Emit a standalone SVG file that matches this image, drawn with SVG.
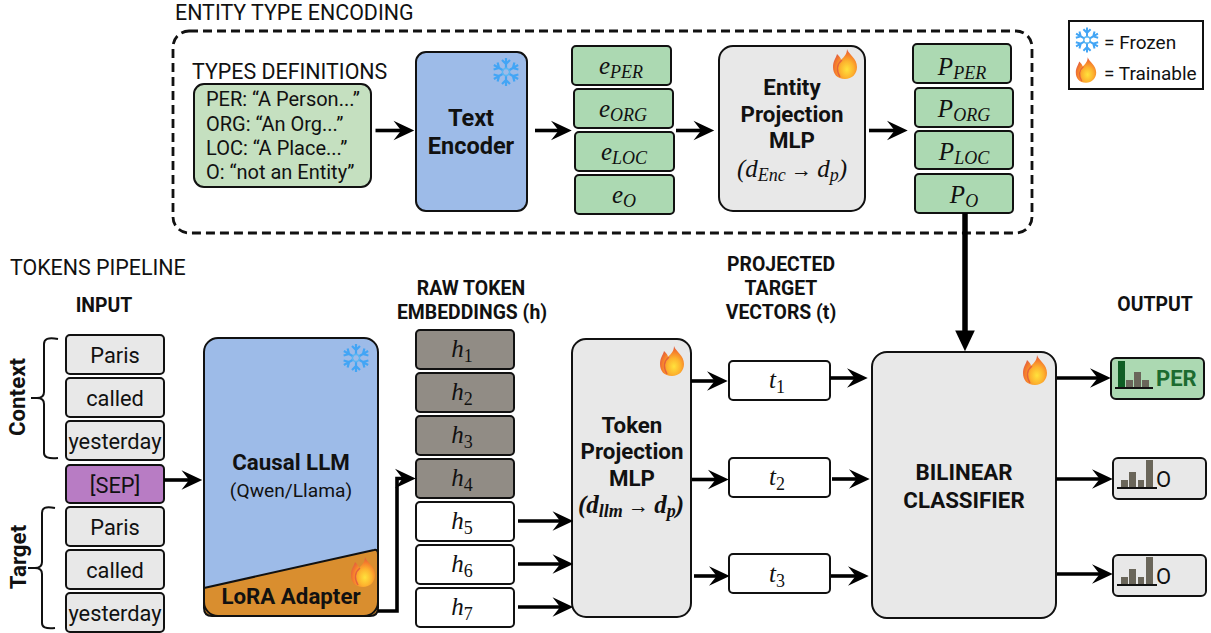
<svg xmlns="http://www.w3.org/2000/svg" xmlns:xlink="http://www.w3.org/1999/xlink" width="1211" height="633" viewBox="0 0 1211 633">
<style>
text{font-family:"Roboto","Liberation Sans",sans-serif;fill:#111}
.b{font-weight:700}
.c{text-anchor:middle}
.h{font-size:19.400px;font-weight:700;text-anchor:middle;transform:translateY(1px)}
.t{font-size:22.300px;font-weight:700;text-anchor:middle;transform:translateY(1px)}
.w{font-size:21.800px;text-anchor:middle;transform:translateY(1px)}
.m{font-family:"Liberation Serif",serif;font-style:italic;font-size:25px;text-anchor:middle}
.m tspan{font-size:18px}
.m .d{font-style:normal}
.m .n{font-size:25px}
.m .r{font-size:21px;font-style:normal;font-weight:400}
.box{stroke:#111;stroke-width:2}
.gray{fill:#e8e8e8}.green{fill:#acd9b2}.blue{fill:#9dbbe8}.white{fill:#fff}.hg{fill:#918c85}
.a{stroke:#000;stroke-width:3.600;fill:none;marker-end:url(#ah)}
.bar{fill:#6a665a}
</style>
<defs>
<marker id="ah" markerUnits="userSpaceOnUse" markerWidth="24" markerHeight="24" viewBox="-1 -11 22 22" refX="11" refY="0" orient="auto"><path d="M0,-9L19,0L0,9L7,0z" fill="#000"/></marker>
<marker id="ahb" markerUnits="userSpaceOnUse" markerWidth="24" markerHeight="24" viewBox="-1 -11 22 22" refX="5" refY="0" orient="auto"><path d="M0,-9L19,0L0,9z" fill="#000"/></marker>
<radialGradient id="fg" cx="0.58" cy="0.68" r="0.62"><stop offset="0" stop-color="#ffe23c"/><stop offset="0.45" stop-color="#fdb32e"/><stop offset="0.8" stop-color="#f57c2c"/><stop offset="1" stop-color="#e4623d"/></radialGradient>
<g id="arm"><path d="M0,-3V-14M-4,-12L0,-8L4,-12" fill="none" stroke="#42a5f5" stroke-width="2.200"/></g>
<g id="snow">
<use xlink:href="#arm" href="#arm"/><use xlink:href="#arm" href="#arm" transform="rotate(60)"/><use xlink:href="#arm" href="#arm" transform="rotate(120)"/><use xlink:href="#arm" href="#arm" transform="rotate(180)"/><use xlink:href="#arm" href="#arm" transform="rotate(240)"/><use xlink:href="#arm" href="#arm" transform="rotate(300)"/>
<circle r="3.600" fill="none" stroke="#5ab6f2" stroke-width="1.600"/>
</g>
<g id="flame">
<path d="M2,-15C4,-9 12,-6 12,3C12,10 7,15 0,15C-8,15 -12,10 -12,3C-12,-3 -9,-6 -8,-10C-6,-8 -4,-6 -4,-4C-1,-7 2,-10 2,-15z" fill="url(#fg)"/>
<path d="M-3,-4C-8,0 -9,6 -5,13" fill="none" stroke="#e4623d" stroke-width="1.400"/>
</g>
</defs>

<rect width="1211" height="633" fill="#fff"/>

<g id="titles">
<text x="175" y="20" font-size="21.400">ENTITY TYPE ENCODING</text>
<text x="10" y="275" font-size="21.400">TOKENS PIPELINE</text>
<text x="104" y="311" class="h">INPUT</text>
<text x="471" y="294" class="h">RAW TOKEN</text>
<text x="472" y="318" class="h">EMBEDDINGS (h)</text>
<text x="781" y="270" class="h">PROJECTED</text>
<text x="781" y="294" class="h">TARGET</text>
<text x="781" y="318" class="h">VECTORS (t)</text>
<text x="1155" y="310" class="h">OUTPUT</text>
</g>

<g id="entity-frame"><rect x="173" y="31" width="859" height="202" rx="16" fill="none" stroke="#111" stroke-width="2.800" stroke-dasharray="9 5"/></g>

<g id="types">
<text x="192" y="79" font-size="21.400">TYPES DEFINITIONS</text>
<rect class="box" x="194" y="84" width="177" height="103" rx="10" fill="#c5e0c0"/>
<text x="206" y="106" font-size="20">PER: “A Person...”</text>
<text x="206" y="131" font-size="20">ORG: “An Org...”</text>
<text x="206" y="155" font-size="20">LOC: “A Place...”</text>
<text x="206" y="179" font-size="20">O: “not an Entity”</text>
</g>

<g id="text-encoder">
<rect class="box blue" x="416" y="52" width="111" height="159" rx="10"/>
<text x="471" y="125" class="t" style="font-size:23.500px">Text</text>
<text x="471" y="153" class="t" style="font-size:23.500px">Encoder</text>
<use xlink:href="#snow" href="#snow" x="506" y="72"/>
</g>

<g id="e-per"><rect class="box green" x="572" y="46" width="99" height="39" rx="4"/><text class="m" x="621" y="74">e<tspan dy="4">PER</tspan></text></g>
<g id="e-org"><rect class="box green" x="574" y="89" width="99" height="39" rx="4"/><text class="m" x="623" y="117">e<tspan dy="4">ORG</tspan></text></g>
<g id="e-loc"><rect class="box green" x="575" y="132" width="99" height="39" rx="4"/><text class="m" x="624" y="160">e<tspan dy="4">LOC</tspan></text></g>
<g id="e-o"><rect class="box green" x="575" y="175" width="99" height="39" rx="4"/><text class="m" x="624" y="203">e<tspan dy="4">O</tspan></text></g>

<g id="entity-mlp">
<rect class="box gray" x="719" y="46" width="146" height="165" rx="14"/>
<text x="792" y="94" class="t">Entity</text>
<text x="792" y="121" class="t">Projection</text>
<text x="792" y="147" class="t">MLP</text>
<text class="m" x="792" y="177">(d<tspan dy="4">Enc</tspan><tspan dy="-4" class="r"> → </tspan>d<tspan dy="4">p</tspan><tspan dy="-4" class="n">)</tspan></text>
<use xlink:href="#flame" href="#flame" x="845" y="64"/>
</g>

<g id="p-per"><rect class="box green" x="913" y="44" width="98" height="39" rx="4"/><text class="m" x="962" y="75">P<tspan dy="4">PER</tspan></text></g>
<g id="p-org"><rect class="box green" x="915" y="88" width="98" height="39" rx="4"/><text class="m" x="964" y="117">P<tspan dy="4">ORG</tspan></text></g>
<g id="p-loc"><rect class="box green" x="915" y="131" width="98" height="38" rx="4"/><text class="m" x="964" y="160">P<tspan dy="4">LOC</tspan></text></g>
<g id="p-o"><rect class="box green" x="915" y="174" width="98" height="39" rx="4"/><text class="m" x="964" y="203">P<tspan dy="4">O</tspan></text></g>

<g id="legend">
<rect x="1069" y="21" width="134" height="68" fill="#fff" stroke="#111" stroke-width="2"/>
<use xlink:href="#snow" href="#snow" transform="translate(1087 40) scale(.9)"/>
<text x="1104" y="49" font-size="19">= Frozen</text>
<use xlink:href="#flame" href="#flame" transform="translate(1086 70) scale(.85)"/>
<text x="1104" y="80" font-size="19">= Trainable</text>
</g>

<g id="context-bracket">
<path d="M58,339C48,337 44,339 44,344V392C44,396 42,398 37,398H31M37,398C42,398 44,400 44,404V453C44,457 48,459 58,458" fill="none" stroke="#111" stroke-width="2"/>
<text transform="translate(25 397) rotate(-90)" font-size="22.300" class="b c">Context</text>
</g>
<g id="target-bracket">
<path d="M55,508C45,506 42,508 42,513V562C42,566 40,568 35,568H28M35,568C40,568 42,570 42,574V623C42,627 45,629 55,628" fill="none" stroke="#111" stroke-width="2"/>
<text transform="translate(26 557) rotate(-90)" font-size="22.300" class="b c">Target</text>
</g>

<g id="in-paris-1"><rect class="box gray" x="66" y="335" width="98" height="39" rx="4"/><text x="115" y="362" class="w">Paris</text></g>
<g id="in-called-1"><rect class="box gray" x="66" y="378" width="98" height="39" rx="4"/><text x="115" y="405" class="w">called</text></g>
<g id="in-yesterday-1"><rect class="box gray" x="66" y="421" width="98" height="39" rx="4"/><text x="115" y="448" class="w">yesterday</text></g>
<g id="in-sep"><rect class="box" fill="#b87cc4" x="66" y="465" width="98" height="38" rx="4"/><text x="115" y="492" class="w">[SEP]</text></g>
<g id="in-paris-2"><rect class="box gray" x="66" y="507" width="98" height="39" rx="4"/><text x="115" y="534" class="w">Paris</text></g>
<g id="in-called-2"><rect class="box gray" x="66" y="550" width="98" height="39" rx="4"/><text x="115" y="577" class="w">called</text></g>
<g id="in-yesterday-2"><rect class="box gray" x="66" y="593" width="98" height="39" rx="4"/><text x="115" y="620" class="w">yesterday</text></g>

<g id="causal-llm">
<rect class="blue" x="204" y="338" width="174" height="278" rx="14"/>
<path d="M204,588L374,550Q378,549 378,554V608Q378,616 370,616H212Q204,616 204,608z" fill="#d98e2f" stroke="#111" stroke-width="2"/>
<rect class="box" fill="none" x="204" y="338" width="174" height="278" rx="14"/>
<text x="291" y="469" class="t">Causal LLM</text>
<text x="291" y="497" font-size="19.200" class="c">(Qwen/Llama)</text>
<text x="291" y="603" class="t">LoRA Adapter</text>
<use xlink:href="#snow" href="#snow" x="356" y="358"/>
<use xlink:href="#flame" href="#flame" x="363" y="572"/>
</g>

<g id="h1"><rect class="box hg" x="416" y="330" width="98" height="39" rx="4"/><text class="m" x="462" y="357">h<tspan class="d" dy="5">1</tspan></text></g>
<g id="h2"><rect class="box hg" x="416" y="373" width="98" height="39" rx="4"/><text class="m" x="462" y="400">h<tspan class="d" dy="5">2</tspan></text></g>
<g id="h3"><rect class="box hg" x="416" y="416" width="98" height="39" rx="4"/><text class="m" x="462" y="443">h<tspan class="d" dy="5">3</tspan></text></g>
<g id="h4"><rect class="box hg" x="416" y="459" width="98" height="39" rx="4"/><text class="m" x="462" y="486">h<tspan class="d" dy="5">4</tspan></text></g>
<g id="h5"><rect class="box white" x="416" y="502" width="98" height="39" rx="4"/><text class="m" x="462" y="529">h<tspan class="d" dy="5">5</tspan></text></g>
<g id="h6"><rect class="box white" x="416" y="545" width="98" height="39" rx="4"/><text class="m" x="462" y="572">h<tspan class="d" dy="5">6</tspan></text></g>
<g id="h7"><rect class="box white" x="416" y="588" width="98" height="39" rx="4"/><text class="m" x="462" y="615">h<tspan class="d" dy="5">7</tspan></text></g>

<g id="token-mlp">
<rect class="box gray" x="572" y="339" width="119" height="278" rx="14"/>
<text x="632" y="432" class="t">Token</text>
<text x="632" y="458" class="t">Projection</text>
<text x="632" y="485" class="t">MLP</text>
<text class="m" x="631" y="513" font-weight="700">(d<tspan dy="4">llm</tspan><tspan dy="-4" class="r"> → </tspan>d<tspan dy="4">p</tspan><tspan dy="-4" class="n">)</tspan></text>
<use xlink:href="#flame" href="#flame" x="672" y="361"/>
</g>

<g id="t1"><rect class="box white" x="729" y="361" width="101" height="39" rx="4"/><text class="m" x="777" y="388">t<tspan class="d" dy="5">1</tspan></text></g>
<g id="t2"><rect class="box white" x="729" y="458" width="101" height="39" rx="4"/><text class="m" x="777" y="485">t<tspan class="d" dy="5">2</tspan></text></g>
<g id="t3"><rect class="box white" x="729" y="554" width="101" height="39" rx="4"/><text class="m" x="777" y="582">t<tspan class="d" dy="5">3</tspan></text></g>

<g id="bilinear">
<rect class="box gray" x="872" y="352" width="184" height="266" rx="15"/>
<text x="964" y="479" class="t">BILINEAR</text>
<text x="964" y="507" class="t">CLASSIFIER</text>
<use xlink:href="#flame" href="#flame" x="1035" y="370"/>
</g>

<g id="out-per">
<rect class="box green" x="1111" y="358" width="93" height="41" rx="5"/>
<rect x="1118" y="361" width="7" height="26" fill="#0f5e24"/>
<rect class="bar" x="1126" y="380" width="7" height="7"/><rect class="bar" x="1134" y="372" width="7" height="15"/><rect class="bar" x="1142" y="380" width="7" height="7"/>
<path d="M1115,388H1153" stroke="#111" stroke-width="2"/>
<text x="1156" y="386" font-size="22" class="b" style="fill:#1c6b30">PER</text>
</g>
<g id="out-o-1">
<rect class="box gray" x="1113" y="458" width="93" height="41" rx="5"/>
<rect class="bar" x="1121" y="480" width="7" height="7"/><rect class="bar" x="1129" y="472" width="7" height="15"/><rect class="bar" x="1138" y="480" width="6" height="7"/><rect class="bar" x="1146" y="460" width="7" height="27"/>
<path d="M1117,488H1157" stroke="#111" stroke-width="2"/>
<text x="1156" y="487" font-size="22">O</text>
</g>
<g id="out-o-2">
<rect class="box gray" x="1113" y="555" width="93" height="41" rx="5"/>
<rect class="bar" x="1121" y="577" width="7" height="7"/><rect class="bar" x="1129" y="569" width="7" height="15"/><rect class="bar" x="1138" y="577" width="6" height="7"/><rect class="bar" x="1146" y="557" width="7" height="27"/>
<path d="M1117,585H1157" stroke="#111" stroke-width="2"/>
<text x="1156" y="584" font-size="22">O</text>
</g>

<g id="connectors">
<path class="a" d="M375.500,130.500H405.500"/>
<path class="a" d="M535,130.500H563"/>
<path class="a" d="M676,130.500H705.500"/>
<path class="a" d="M869,130.500H899"/>
<path d="M965,213V336" stroke="#000" stroke-width="5.500" fill="none" marker-end="url(#ahb)"/>
<path class="a" d="M164,480H193.500"/>
<path class="a" d="M378,611H397V478.500H407"/>
<path class="a" d="M518,521H564.500"/>
<path class="a" d="M518,564H564.500"/>
<path class="a" d="M518,607H564.500"/>
<path class="a" d="M691,381H719"/>
<path class="a" d="M692,479.500H720"/>
<path class="a" d="M694,576H721"/>
<path class="a" d="M830,378H859"/>
<path class="a" d="M832,479H861"/>
<path class="a" d="M831,576H860"/>
<path class="a" d="M1057,378H1102"/>
<path class="a" d="M1056,479H1104"/>
<path class="a" d="M1057,574H1104"/>
</g>
</svg>
